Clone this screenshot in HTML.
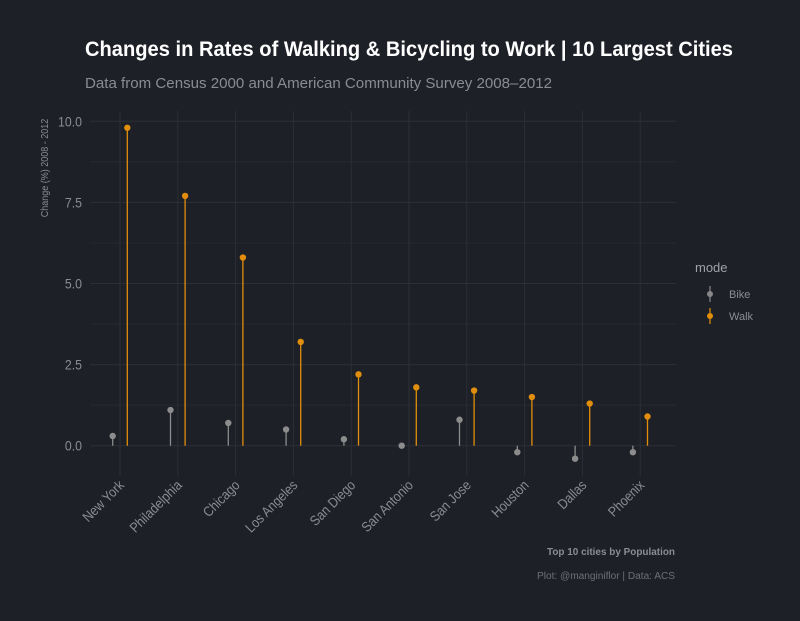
<!DOCTYPE html>
<html><head><meta charset="utf-8"><style>
body{margin:0;background:#1e2028;}
svg{display:block;font-family:"Liberation Sans",sans-serif;}
</style></head><body>
<svg id="c" width="800" height="621" xmlns="http://www.w3.org/2000/svg">
<rect width="800" height="621" fill="#1e2028"/>
<text x="85" y="56" fill="#ffffff" font-size="21" font-weight="bold" textLength="648" lengthAdjust="spacingAndGlyphs">Changes in Rates of Walking &amp; Bicycling to Work | 10 Largest Cities</text>
<text x="85" y="88" fill="#8a8c92" font-size="15" textLength="467" lengthAdjust="spacingAndGlyphs">Data from Census 2000 and American Community Survey 2008–2012</text>
<text transform="translate(48,168) rotate(-90) scale(0.9,1)" fill="#8a8c92" font-size="10" text-anchor="middle">Change (%) 2008 - 2012</text>
<g id="grid"></g><g id="marks"></g><g id="labels"></g>
<text x="695" y="272" fill="#a0a2a8" font-size="13">mode</text>
<g>
<line x1="710" y1="286" x2="710" y2="302" stroke="#888" stroke-width="1.2"/><circle cx="710" cy="294" r="3" fill="#888"/>
<text x="729" y="298" fill="#8a8c92" font-size="11">Bike</text></g>
<g>
<line x1="710" y1="308" x2="710" y2="324" stroke="#e08e0b" stroke-width="1.2"/><circle cx="710" cy="316" r="3" fill="#e08e0b"/>
<text x="729" y="320" fill="#8a8c92" font-size="11">Walk</text></g>
<text x="675" y="555" fill="#8a8c92" font-size="10" font-weight="bold" text-anchor="end" textLength="128" lengthAdjust="spacingAndGlyphs">Top 10 cities by Population</text>
<text x="675" y="579" fill="#6e7076" font-size="10" text-anchor="end" textLength="138" lengthAdjust="spacingAndGlyphs">Plot: @manginiflor | Data: ACS</text>
</svg>
<script>
const categories=["New York","Philadelphia","Chicago","Los Angeles","San Diego","San Antonio","San Jose","Houston","Dallas","Phoenix"];
const bikeValues=[0.3,1.1,0.7,0.5,0.2,0.0,0.8,-0.2,-0.4,-0.2];
const walkValues=[9.8,7.7,5.8,3.2,2.2,1.8,1.7,1.5,1.3,0.9];
const yTicks=[0,2.5,5,7.5,10];
const yTickLabels=["0.0","2.5","5.0","7.5","10.0"];
const NS="http://www.w3.org/2000/svg";
const x=i=>120+i*57.8;
const y=v=>445.7-v*32.44;
const L=90,R=676,T=111,B=476;
function mk(tag,attrs,parent){const e=document.createElementNS(NS,tag);for(const k in attrs)e.setAttribute(k,attrs[k]);parent.appendChild(e);return e;}
const g=document.getElementById('grid'),m=document.getElementById('marks'),lb=document.getElementById('labels');
for(let i=0;i<yTicks.length;i++){
 const l=mk('line',{x1:L,x2:R,y1:y(yTicks[i]),y2:y(yTicks[i]),stroke:'#2c2f36','stroke-width':1},g);
 
 
 if(i<yTicks.length-1){const mn=mk('line',{x1:L,x2:R,y1:y((yTicks[i]+yTicks[i+1])/2),y2:y((yTicks[i]+yTicks[i+1])/2),stroke:'#262930','stroke-width':1},g);
 
 }
 const t=mk('text',{transform:`translate(82,${y(yTicks[i])+5}) scale(0.88,1)`,fill:'#8a8c92','font-size':14,'text-anchor':'end'},lb);
 t.textContent=yTickLabels[i];
 
 
}
categories.forEach((c,i)=>{
 const v=mk('line',{x1:x(i),x2:x(i),y1:T,y2:B,stroke:'#2c2f36','stroke-width':1},g);
 
 
 const bx=x(i)-7.3,wx=x(i)+7.3;
 const bl=mk('line',{x1:bx,x2:bx,y1:y(0),y2:y(bikeValues[i]),stroke:'#8c8c8c','stroke-width':1.3},m);
 
 
 const bp=mk('circle',{cx:bx,cy:y(bikeValues[i]),r:3.2,fill:'#8c8c8c'},m);
 
 
 const wl=mk('line',{x1:wx,x2:wx,y1:y(0),y2:y(walkValues[i]),stroke:'#e08e0b','stroke-width':1.3},m);
 
 
 const wp=mk('circle',{cx:wx,cy:y(walkValues[i]),r:3.2,fill:'#e08e0b'},m);
 
 
 const t=mk('text',{transform:`translate(${x(i)+5},${486}) rotate(-45) scale(0.88,1)`,fill:'#8a8c92','font-size':14,'text-anchor':'end'},lb);
 t.textContent=c;
 
 
});
</script>
</body></html>
